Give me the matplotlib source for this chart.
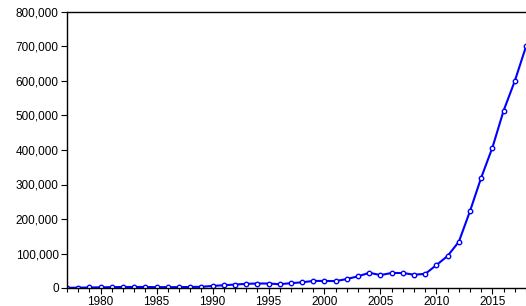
import matplotlib
matplotlib.use("Agg")
import matplotlib.pyplot as plt
from matplotlib.ticker import FuncFormatter, MultipleLocator

plt.rcParams["font.family"] = ["Liberation Sans", "DejaVu Sans"]

years = list(range(1977, 2019))
values = [
    500, 1000, 1500, 2000, 2500, 3000, 3000, 3000, 2500, 2500,
    2500, 3000, 3500, 6000, 8000, 10000, 12000, 13000, 13000, 11000,
    14000, 16500, 20500, 20500, 20000, 26000, 34000, 44000, 37500, 43500,
    43500, 38500, 41000, 66500, 93000, 134000, 223000, 320000, 407000, 514000,
    600000, 700000,
]

fig = plt.figure(figsize=(5.26, 3.06), dpi=100)
ax = fig.add_axes([67 / 526, 18 / 306, 459 / 526, 276 / 306])

ax.plot(years, values, color="#0000ff", linewidth=1.5, marker="o",
        markersize=3.2, markerfacecolor="white", markeredgecolor="#0000ff",
        markeredgewidth=1.0, clip_on=True)

ax.set_xlim(1977, 2018)
ax.set_ylim(0, 800000)
ax.xaxis.set_major_locator(MultipleLocator(5))
ax.xaxis.set_minor_locator(MultipleLocator(1))
ax.yaxis.set_major_locator(MultipleLocator(100000))
ax.yaxis.set_major_formatter(FuncFormatter(lambda v, p: f"{int(v):,}"))

ax.spines["right"].set_visible(False)
for s in ("left", "bottom", "top"):
    ax.spines[s].set_linewidth(1.0)
ax.tick_params(axis="both", direction="out", labelsize=8.5, width=0.8,
               length=4, pad=2)
ax.tick_params(axis="x", which="minor", direction="out", length=3, width=0.8)
ax.tick_params(axis="y", which="minor", left=False)

fig.savefig("out.png", dpi=100)
